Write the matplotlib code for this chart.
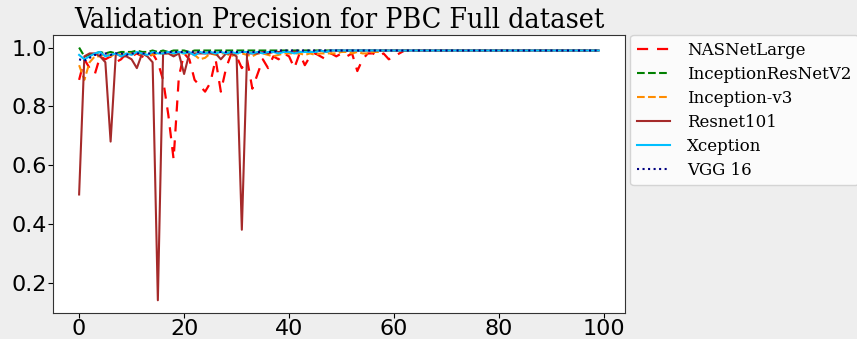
import matplotlib
matplotlib.use("Agg")
import matplotlib.pyplot as plt

epochs = list(range(100))

nasnet = [0.89, 0.96, 0.93, 0.91, 0.97, 0.96, 0.97, 0.95, 0.96, 0.98,
          0.97, 0.98, 0.97, 0.96, 0.98, 0.95, 0.89, 0.77, 0.62, 0.90,
          0.98, 0.96, 0.89, 0.87, 0.85, 0.88, 0.96, 0.85, 0.93, 0.98,
          0.97, 0.93, 0.96, 0.86, 0.91, 0.96, 0.93, 0.97, 0.96, 0.98,
          0.97, 0.93, 0.98, 0.94, 0.97, 0.98, 0.97, 0.96, 0.98, 0.97,
          0.98, 0.97, 0.98, 0.92, 0.96, 0.98, 0.98, 0.97, 0.98, 0.96,
          0.97, 0.98, 0.99, 0.99, 0.99, 0.99, 0.99, 0.99, 0.99, 0.99,
          0.99, 0.99, 0.99, 0.99, 0.99, 0.99, 0.99, 0.99, 0.99, 0.99,
          0.99, 0.99, 0.99, 0.99, 0.99, 0.99, 0.99, 0.99, 0.99, 0.99,
          0.99, 0.99, 0.99, 0.99, 0.99, 0.99, 0.99, 0.99, 0.99, 0.99]

inc_resnet = [1.00, 0.97, 0.975, 0.98, 0.985, 0.98, 0.985, 0.98, 0.985, 0.985,
              0.985, 0.99, 0.985, 0.985, 0.99, 0.985, 0.99, 0.985, 0.99, 0.99,
              0.99, 0.985, 0.99, 0.99, 0.99, 0.99, 0.99, 0.99, 0.99, 0.99,
              0.99, 0.99, 0.99, 0.99, 0.99, 0.99, 0.99, 0.99, 0.99, 0.99,
              0.99, 0.99, 0.99, 0.99, 0.99, 0.99, 0.99, 0.99, 0.99, 0.99,
              0.99, 0.99, 0.99, 0.99, 0.99, 0.99, 0.99, 0.99, 0.99, 0.99,
              0.99, 0.99, 0.99, 0.99, 0.99, 0.99, 0.99, 0.99, 0.99, 0.99,
              0.99, 0.99, 0.99, 0.99, 0.99, 0.99, 0.99, 0.99, 0.99, 0.99,
              0.99, 0.99, 0.99, 0.99, 0.99, 0.99, 0.99, 0.99, 0.99, 0.99,
              0.99, 0.99, 0.99, 0.99, 0.99, 0.99, 0.99, 0.99, 0.99, 0.99]

inception_v3 = [0.94, 0.89, 0.95, 0.97, 0.97, 0.98, 0.97, 0.98, 0.975, 0.98,
                0.98, 0.975, 0.98, 0.98, 0.975, 0.98, 0.98, 0.98, 0.975, 0.98,
                0.98, 0.98, 0.975, 0.96, 0.965, 0.98, 0.975, 0.98, 0.98, 0.97,
                0.98, 0.98, 0.975, 0.97, 0.98, 0.98, 0.975, 0.97, 0.975, 0.98,
                0.98, 0.98, 0.98, 0.975, 0.98, 0.975, 0.98, 0.98, 0.98, 0.98,
                0.985, 0.985, 0.98, 0.985, 0.98, 0.98, 0.985, 0.985, 0.99, 0.99,
                0.99, 0.99, 0.99, 0.99, 0.99, 0.99, 0.99, 0.99, 0.99, 0.99,
                0.99, 0.99, 0.99, 0.99, 0.99, 0.99, 0.99, 0.99, 0.99, 0.99,
                0.99, 0.99, 0.99, 0.99, 0.99, 0.99, 0.99, 0.99, 0.99, 0.99,
                0.99, 0.99, 0.99, 0.99, 0.99, 0.99, 0.99, 0.99, 0.99, 0.99]

resnet101 = [0.50, 0.97, 0.98, 0.98, 0.97, 0.95, 0.68, 0.98, 0.97, 0.97,
             0.96, 0.93, 0.98, 0.97, 0.95, 0.14, 0.98, 0.98, 0.97, 0.98,
             0.91, 0.98, 0.98, 0.98, 0.98, 0.98, 0.98, 0.96, 0.98, 0.98,
             0.97, 0.38, 0.98, 0.98, 0.98, 0.985, 0.98, 0.985, 0.985, 0.985,
             0.985, 0.985, 0.985, 0.985, 0.985, 0.985, 0.99, 0.985, 0.99, 0.99,
             0.99, 0.99, 0.99, 0.99, 0.99, 0.99, 0.99, 0.99, 0.99, 0.99,
             0.99, 0.99, 0.99, 0.99, 0.99, 0.99, 0.99, 0.99, 0.99, 0.99,
             0.99, 0.99, 0.99, 0.99, 0.99, 0.99, 0.99, 0.99, 0.99, 0.99,
             0.99, 0.99, 0.99, 0.99, 0.99, 0.99, 0.99, 0.99, 0.99, 0.99,
             0.99, 0.99, 0.99, 0.99, 0.99, 0.99, 0.99, 0.99, 0.99, 0.99]

xception = [0.975, 0.96, 0.97, 0.98, 0.985, 0.97, 0.975, 0.98, 0.97, 0.98,
            0.975, 0.985, 0.98, 0.975, 0.985, 0.98, 0.98, 0.985, 0.98, 0.985,
            0.98, 0.985, 0.973, 0.985, 0.98, 0.985, 0.98, 0.985, 0.98, 0.985,
            0.98, 0.985, 0.985, 0.98, 0.985, 0.98, 0.985, 0.985, 0.98, 0.985,
            0.985, 0.98, 0.985, 0.985, 0.985, 0.985, 0.99, 0.985, 0.99, 0.99,
            0.99, 0.99, 0.99, 0.99, 0.99, 0.99, 0.99, 0.99, 0.99, 0.99,
            0.99, 0.99, 0.99, 0.99, 0.99, 0.99, 0.99, 0.99, 0.99, 0.99,
            0.99, 0.99, 0.99, 0.99, 0.99, 0.99, 0.99, 0.99, 0.99, 0.99,
            0.99, 0.99, 0.99, 0.99, 0.99, 0.99, 0.99, 0.99, 0.99, 0.99,
            0.99, 0.99, 0.99, 0.99, 0.99, 0.99, 0.99, 0.99, 0.99, 0.99]

vgg16 = [0.96, 0.955, 0.965, 0.975, 0.975, 0.98, 0.975, 0.98, 0.98, 0.975,
         0.98, 0.98, 0.98, 0.98, 0.98, 0.985, 0.98, 0.985, 0.985, 0.985,
         0.985, 0.985, 0.985, 0.985, 0.985, 0.985, 0.985, 0.985, 0.985, 0.985,
         0.985, 0.985, 0.985, 0.985, 0.985, 0.985, 0.985, 0.985, 0.99, 0.99,
         0.99, 0.99, 0.99, 0.99, 0.99, 0.99, 0.99, 0.99, 0.99, 0.99,
         0.99, 0.99, 0.99, 0.99, 0.99, 0.99, 0.99, 0.99, 0.99, 0.99,
         0.99, 0.99, 0.99, 0.99, 0.99, 0.99, 0.99, 0.99, 0.99, 0.99,
         0.99, 0.99, 0.99, 0.99, 0.99, 0.99, 0.99, 0.99, 0.99, 0.99,
         0.99, 0.99, 0.99, 0.99, 0.99, 0.99, 0.99, 0.99, 0.99, 0.99,
         0.99, 0.99, 0.99, 0.99, 0.99, 0.99, 0.99, 0.99, 0.99, 0.99]

labels = ["NASNetLarge", "InceptionResNetV2", "Inception-v3", "Resnet101", "Xception", "VGG 16"]
title = "Validation Precision for PBC Full dataset"

fig = plt.figure(figsize=(8.57, 3.39), dpi=100, facecolor="#eeeeee")
ax = fig.add_axes([0.062, 0.077, 0.667, 0.82])

ax.plot(epochs, nasnet, color="red", lw=1.6, dashes=(5, 4), label=labels[0])
ax.plot(epochs, inc_resnet, color="green", lw=1.5, ls="--", label=labels[1])
ax.plot(epochs, inception_v3, color="darkorange", lw=1.5, ls="--", label=labels[2])
ax.plot(epochs, resnet101, color="brown", lw=1.5, ls="-", label=labels[3])
ax.plot(epochs, xception, color="deepskyblue", lw=1.5, ls="-", label=labels[4])
ax.plot(epochs, vgg16, color="navy", lw=1.5, ls=":", label=labels[5])

ax.set_xticks([0, 20, 40, 60, 80, 100])
ax.set_yticks([0.2, 0.4, 0.6, 0.8, 1.0])
ax.tick_params(labelsize=16, pad=1)
for s in ax.spines.values():
    s.set_color("#333333")

ax.set_title(title, fontsize=20.5, family="DejaVu Serif", fontstretch="condensed", pad=5)
leg = ax.legend(loc="upper left", bbox_to_anchor=(1.01, 1.0), prop={"family": "DejaVu Serif", "size": 12},
                handlelength=2.0, borderaxespad=0, labelspacing=0.42, handletextpad=1.0)

fig.savefig("out.png", dpi=100, facecolor=fig.get_facecolor())
